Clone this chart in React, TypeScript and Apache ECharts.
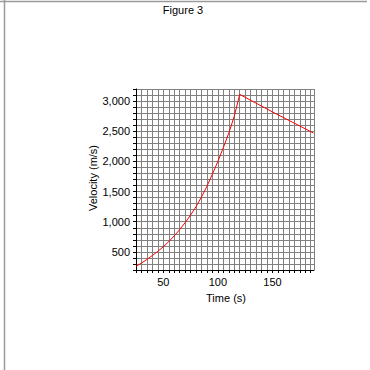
import React, { useEffect, useRef } from "react";
import * as echarts from "echarts";

const titleText = "Figure 3";
const xName = "Time (s)";
const yName = "Velocity (m/s)";
const times = [25, 30, 35, 40, 45, 50, 55, 60, 65, 70, 75, 80, 85, 90, 95, 100, 105, 110, 115, 120, 150, 187.5];
const velocities = [260, 315, 375, 440, 510, 585, 670, 765, 870, 985, 1110, 1250, 1410, 1590, 1790, 2000, 2230, 2470, 2750, 3110, 2820, 2470];
const xLabelValues = [50, 100, 150];
const yLabelValues = [500, 1000, 1500, 2000, 2500, 3000];

const font = "'Liberation Sans', Arial, sans-serif";

export default function App() {
  const ref = useRef<HTMLDivElement>(null);
  useEffect(() => {
    document.body.style.margin = "0";
    const chart = echarts.init(ref.current!, null, { renderer: "svg" });
    const data = times.map((t, i) => [t, velocities[i]]);
    chart.setOption({
      animation: false,
      backgroundColor: "#ffffff",
      textStyle: { fontFamily: font },
      grid: { left: 136, right: 56, top: 89, bottom: 100 },
      xAxis: {
        type: "value",
        min: 25,
        max: 188,
        interval: 5,
        axisLine: { show: true, onZero: false, lineStyle: { color: "#000", width: 1 } },
        axisTick: { show: true, length: 3, lineStyle: { color: "#000" } },
        axisLabel: {
          color: "#000",
          fontSize: 11,
          fontFamily: font,
          margin: 6,
          showMaxLabel: false,
          formatter: (v: number) => (xLabelValues.includes(v) ? String(v) : ""),
        },
        splitLine: { show: true, lineStyle: { color: "#808080", width: 1 } },
      },
      yAxis: {
        type: "value",
        min: 200,
        max: 3200,
        interval: 100,
        axisLine: { show: true, onZero: false, lineStyle: { color: "#000", width: 1 } },
        axisTick: { show: true, length: 3, lineStyle: { color: "#000" } },
        axisLabel: {
          color: "#000",
          fontSize: 11,
          fontFamily: font,
          margin: 6,
          formatter: (v: number) =>
            yLabelValues.includes(v) ? v.toLocaleString("en-US") : "",
        },
        splitLine: { show: true, lineStyle: { color: "#808080", width: 1 } },
      },
      series: [
        {
          type: "line",
          data,
          symbol: "none",
          lineStyle: { color: "#ff0000", width: 1 },
          clip: true,
        },
      ],
      graphic: [
        { type: "line", shape: { x1: 0, y1: 1.5, x2: 367, y2: 1.5 }, style: { stroke: "#9a9a9a", lineWidth: 1.5 } },
        { type: "line", shape: { x1: 4.5, y1: 0, x2: 4.5, y2: 370 }, style: { stroke: "#9a9a9a", lineWidth: 1.5 } },
        {
          type: "text",
          x: 183,
          y: 10,
          style: { text: titleText, font: `11px ${font}`, fill: "#000", align: "center", verticalAlign: "middle" },
        },
        {
          type: "text",
          x: 226,
          y: 298,
          style: { text: xName, font: `11px ${font}`, fill: "#000", align: "center", verticalAlign: "middle" },
        },
        {
          type: "text",
          x: 93,
          y: 178,
          rotation: Math.PI / 2,
          style: { text: yName, font: `11px ${font}`, fill: "#000", align: "center", verticalAlign: "middle" },
        },
      ],
    });
    return () => chart.dispose();
  }, []);
  return <div ref={ref} style={{ position: "fixed", left: 0, top: 0, width: 370, height: 370 }} />;
}
